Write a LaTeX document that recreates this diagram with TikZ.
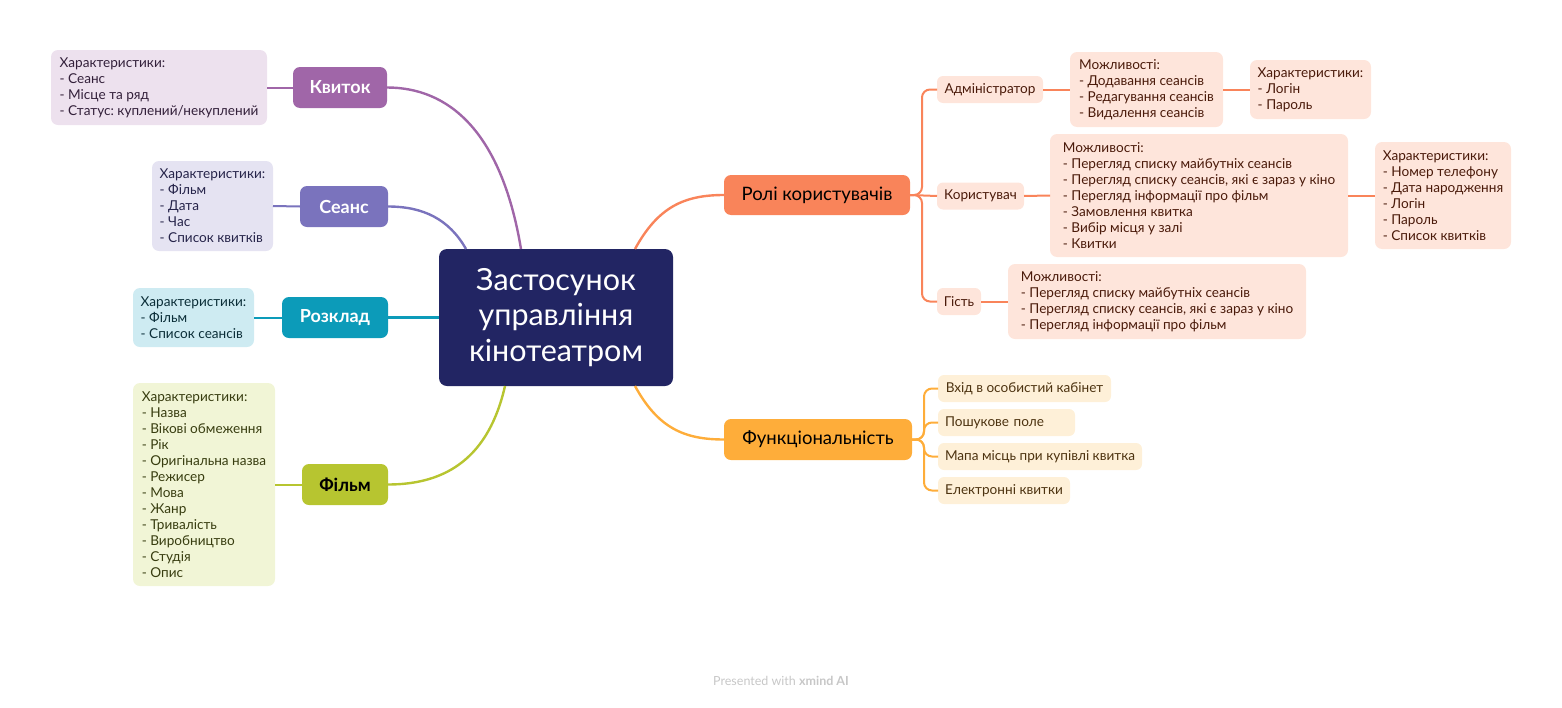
\documentclass[tikz,border=0pt]{standalone}
\usepackage{fontspec}
\setmainfont{Lato}
\frenchspacing
\usetikzlibrary{calc}
\definecolor{navy}{HTML}{222563}
\definecolor{cKv}{HTML}{A066A8}\definecolor{bKv}{HTML}{EDE1EE}\definecolor{tKv}{HTML}{33203A}
\definecolor{cSe}{HTML}{7A73BD}\definecolor{bSe}{HTML}{E5E3F2}\definecolor{tSe}{HTML}{26244A}
\definecolor{cRo}{HTML}{0C9BB9}\definecolor{bRo}{HTML}{CEEBF2}\definecolor{tRo}{HTML}{0B2E38}
\definecolor{cFi}{HTML}{B7C530}\definecolor{bFi}{HTML}{F1F5D6}\definecolor{tFi}{HTML}{383D10}
\definecolor{cRl}{HTML}{F9845A}\definecolor{bRl}{HTML}{FEE5DB}\definecolor{tRl}{HTML}{4A1A0A}
\definecolor{cFn}{HTML}{FEAD3A}\definecolor{bFn}{HTML}{FEF0D8}\definecolor{tFn}{HTML}{4D3310}
\tikzset{
  mainbox/.style={rounded corners=7pt, inner sep=0pt, outer sep=0pt, font=\fontsize{18.5}{22}\selectfont},
  detail/.style args={#1/#2}{rounded corners=7pt, inner sep=0pt, outer sep=0pt,
     minimum width=#1, minimum height=#2, align=left, font=\fontsize{13.6}{16}\selectfont},
  leaf/.style={rounded corners=6pt, inner sep=0pt, outer sep=0pt, minimum height=27pt,
     font=\fontsize{13.6}{16}\selectfont},
  leftleaf/.style={leaf, inner xsep=7pt, text width=#1-14pt, align=left, minimum width=#1},
  link/.style={line width=2.4pt},
  sublink/.style={line width=2pt},
}
\begin{document}
\begin{tikzpicture}[x=1pt,y=-1pt]
\useasboundingbox (0,0) rectangle (1562,707);
% central node
\node[rounded corners=8pt, fill=navy, text=white, minimum width=234pt, minimum height=137pt, inner sep=0pt, outer sep=0pt,
  align=center, font=\fontsize{30.5}{35.5}\selectfont] (c) at (556,317.5) {Застосунок\\управління\\кінотеатром};
% left main topics
\node[mainbox, fill=cKv, text=white, minimum width=94pt, minimum height=41pt, font=\fontsize{18}{20}\selectfont\bfseries] (kv) at (340,87.5) {Квиток};
\node[mainbox, fill=cSe, text=white, minimum width=88pt, minimum height=41pt, font=\fontsize{18}{20}\selectfont\bfseries] (se) at (344,206.5) {Сеанс};
\node[mainbox, fill=cRo, text=white, minimum width=106pt, minimum height=41pt, font=\fontsize{18}{20}\selectfont\bfseries] (ro) at (335,317.5) {Розклад};
\node[mainbox, fill=cFi, text=black, minimum width=86pt, minimum height=41pt, font=\fontsize{18}{20}\selectfont\bfseries] (fi) at (345,484.5) {Фільм};
% left details
\node[detail=216pt/75pt, fill=bKv, text=tKv] (kvd) at (159,87.5) {Характеристики:\\- Сеанс\\- Місце та ряд\\- Статус: куплений/некуплений};
\node[detail=121pt/90pt, fill=bSe, text=tSe] (sed) at (212.5,206) {Характеристики:\\- Фільм\\- Дата\\- Час\\- Список квитків};
\node[detail=121pt/59pt, fill=bRo, text=tRo] (rod) at (193.5,317.5) {Характеристики:\\- Фільм\\- Список сеансів};
\node[detail=142pt/203pt, fill=bFi, text=tFi] (fid) at (204,484.5) {Характеристики:\\- Назва\\- Вікові обмеження\\- Рік\\- Оригінальна назва\\- Режисер\\- Мова\\- Жанр\\- Тривалість\\- Виробництво\\- Студія\\- Опис};
% right main topics
\node[mainbox, fill=cRl, text=black, minimum width=186pt, minimum height=40pt] (rl) at (817,195) {Ролі користувачів};
\node[mainbox, fill=cFn, text=black, minimum width=188pt, minimum height=41pt] (fn) at (818,439.5) {Функціональність};
% roles
\node[leaf, fill=bRl, text=tRl, minimum width=106pt] (ad) at (990,89.5) {Адміністратор};
\node[leaf, fill=bRl, text=tRl, minimum width=87pt] (us) at (980.5,196) {Користувач};
\node[leaf, fill=bRl, text=tRl, minimum width=44pt] (gu) at (959,301.5) {Гість};
\node[detail=153pt/75pt, fill=bRl, text=tRl] (adm) at (1146.5,89.5) {Можливості:\\- Додавання сеансів\\- Редагування сеансів\\- Видалення сеансів};
\node[detail=121pt/59pt, fill=bRl, text=tRl] (adc) at (1310.5,89.5) {Характеристики:\\- Логін\\- Пароль};
\node[detail=298pt/123pt, fill=bRl, text=tRl] (usm) at (1199,195.5) {Можливості:\\- Перегляд списку майбутніх сеансів\\- Перегляд списку сеансів, які є зараз у кіно\\- Перегляд інформації про фільм\\- Замовлення квитка\\- Вибір місця у залі\\- Квитки};
\node[detail=136pt/107pt, fill=bRl, text=tRl] (usc) at (1443,195.5) {Характеристики:\\- Номер телефону\\- Дата народження\\- Логін\\- Пароль\\- Список квитків};
\node[detail=298pt/75pt, fill=bRl, text=tRl] (gum) at (1157,301.5) {Можливості:\\- Перегляд списку майбутніх сеансів\\- Перегляд списку сеансів, які є зараз у кіно\\- Перегляд інформації про фільм};
% functionality
\node[leaf, fill=bFn, text=tFn, minimum width=173pt] (f1) at (1024.5,388.5) {Вхід в особистий кабінет};
\node[leftleaf=137pt, fill=bFn, text=tFn] (f2) at (1006.5,422.5) {Пошукове поле};
\node[leaf, fill=bFn, text=tFn, minimum width=204pt] (f3) at (1040,456.5) {Мапа місць при купівлі квитка};
\node[leaf, fill=bFn, text=tFn, minimum width=132pt] (f4) at (1004,490.5) {Електронні квитки};
% watermark
\node[text=black!22, font=\fontsize{12.5}{14}\selectfont] (wm) at (781,681) {Presented with \textbf{xmind AI}};
% main connectors
\draw[link, cKv] ($(c.north west)+(82,0)$) .. controls ($(c.north west)+(62,-120)$) and ($(kv.east)+(60,0)$) .. (kv.east);
\draw[link, cSe] ($(c.north west)+(27,0)$) .. controls ($(c.north west)+(10,-30)$) and ($(se.east)+(35,0)$) .. (se.east);
\draw[link, cRo] (c.west) -- (ro.east);
\draw[link, cFi] ($(c.south west)+(66,0)$) .. controls ($(c.south west)+(50,70)$) and ($(fi.east)+(60,0)$) .. (fi.east);
\draw[link, cRl] ($(c.north east)+(-38,0)$) .. controls ($(c.north east)+(-15,-42)$) and ($(rl.west)+(-40,0)$) .. (rl.west);
\draw[link, cFn] ($(c.south east)+(-38,0)$) .. controls ($(c.south east)+(-15,42)$) and ($(fn.west)+(-40,0)$) .. (fn.west);
% left detail connectors
\draw[sublink, cKv] (kvd.east) -- (kv.west);
\draw[sublink, cSe] (sed.east) -- (se.west);
\draw[sublink, cRo] (rod.east) -- (ro.west);
\draw[sublink, cFi] (fid.east) -- (fi.west);
% roles connectors
\draw[sublink, cRl, rounded corners=8pt] (rl.east) -- ++(12,0) |- (ad.west);
\draw[sublink, cRl, rounded corners=8pt] (rl.east) -- ++(12,0) |- (gu.west);
\draw[sublink, cRl] (rl.east) -- (us.west);
\draw[sublink, cRl] (ad.east) -- (adm.west);
\draw[sublink, cRl] (adm.east) -- (adc.west);
\draw[sublink, cRl] (us.east) -- (usm.west);
\draw[sublink, cRl] (usm.east) -- (usc.west);
\draw[sublink, cRl] (gu.east) -- (gum.west);
% functionality connectors
\draw[sublink, cFn, rounded corners=8pt] (fn.east) -- ++(12,0) |- (f1.west);
\draw[sublink, cFn, rounded corners=8pt] (fn.east) -- ++(12,0) |- (f2.west);
\draw[sublink, cFn, rounded corners=8pt] (fn.east) -- ++(12,0) |- (f3.west);
\draw[sublink, cFn, rounded corners=8pt] (fn.east) -- ++(12,0) |- (f4.west);
\end{tikzpicture}
\end{document}
